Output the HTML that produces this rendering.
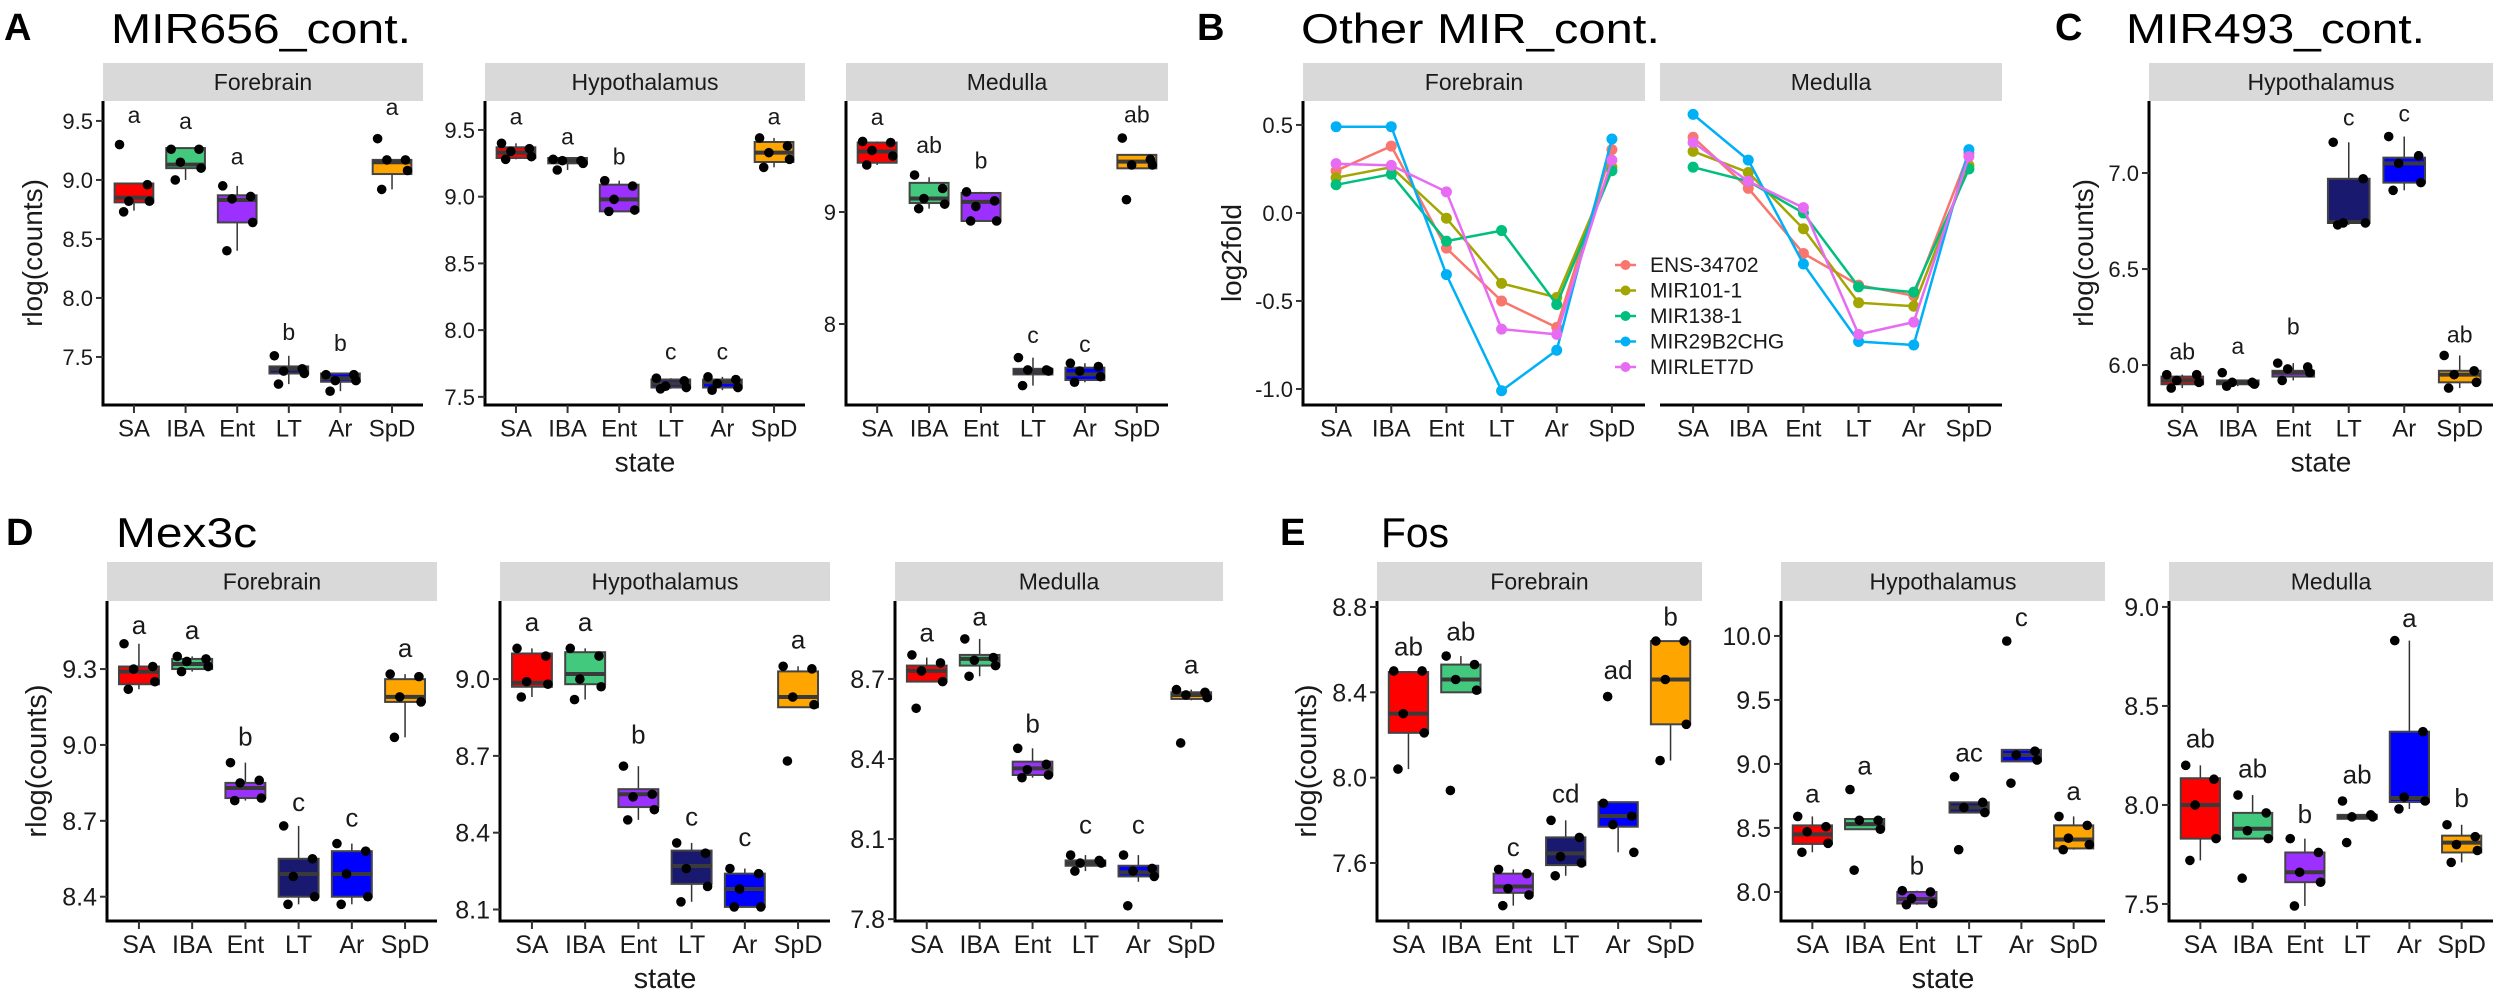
<!DOCTYPE html>
<html><head><meta charset="utf-8"><title>Figure</title>
<style>
html,body{margin:0;padding:0;background:#fff;}
svg{display:block;}
text{font-family:"Liberation Sans Narrow","Liberation Sans",sans-serif;fill:#1a1a1a;}
.ttl{font-family:"Liberation Sans",sans-serif;fill:#000;}
.let{font-family:"Liberation Sans",sans-serif;font-weight:bold;fill:#000;}
</style></head>
<body>
<svg id="fig" xmlns="http://www.w3.org/2000/svg" width="2500" height="993" viewBox="0 0 2500 993">
<rect x="0" y="0" width="2500" height="993" fill="#fff"/>
<text class="let" x="4" y="40" font-size="38">A</text>
<text class="ttl" x="111" y="43" font-size="42" textLength="300" lengthAdjust="spacingAndGlyphs">MIR656_cont.</text>
<text class="let" x="1197" y="40" font-size="38">B</text>
<text class="ttl" x="1301" y="43" font-size="42" textLength="359" lengthAdjust="spacingAndGlyphs">Other MIR_cont.</text>
<text class="let" x="2055" y="40" font-size="38">C</text>
<text class="ttl" x="2126" y="43" font-size="42" textLength="299" lengthAdjust="spacingAndGlyphs">MIR493_cont.</text>
<text class="let" x="6" y="545" font-size="38">D</text>
<text class="ttl" x="116" y="547" font-size="42" textLength="141" lengthAdjust="spacingAndGlyphs">Mex3c</text>
<text class="let" x="1280" y="545" font-size="38">E</text>
<text class="ttl" x="1381" y="547" font-size="42" textLength="68" lengthAdjust="spacingAndGlyphs">Fos</text>
</svg>
<script>
const CATS = ['SA','IBA','Ent','LT','Ar','SpD'];
const FILLS = ['#FF0000','#43C97E','#9B30FF','#191970','#0000FF','#FFA500'];
const JIT = [-0.28,0.26,-0.1,0.3,-0.2];

// ---------- Panel A ----------
const A_F_ticks = [7.5,8.0,8.5,9.0,9.5];
const A_F_tickLab = ['7.5','8.0','8.5','9.0','9.5'];
const A_F_box = [[8.74,8.81,8.85,8.97,8.97],[9.0,9.10,9.13,9.27,9.27],[8.40,8.64,8.83,8.87,8.95],[7.27,7.36,7.40,7.42,7.51],[7.21,7.29,7.32,7.36,7.36],[8.92,9.05,9.15,9.17,9.17]];
const A_F_pts = [[9.30,8.96,8.82,8.82,8.73],[9.26,9.26,9.15,9.10,9.0],[8.95,8.86,8.84,8.64,8.40],[7.51,7.40,7.38,7.36,7.27],[7.35,7.35,7.30,7.30,7.21],[9.35,9.17,9.17,9.08,8.92]];
const A_F_lab = ['a','a','a','b','b','a'];
const A_F_labY = [9.55,9.50,9.20,7.71,7.62,9.62];

const A_H_ticks = [7.5,8.0,8.5,9.0,9.5];
const A_H_tickLab = ['7.5','8.0','8.5','9.0','9.5'];
const A_H_box = [[9.28,9.29,9.33,9.37,9.40],[9.20,9.25,9.27,9.29,9.29],[8.89,8.89,8.98,9.09,9.12],[7.56,7.57,7.60,7.63,7.64],[7.55,7.57,7.61,7.63,7.65],[9.22,9.26,9.33,9.41,9.44]];
const A_H_pts = [[9.40,9.36,9.34,9.30,9.28],[9.28,9.27,9.27,9.25,9.20],[9.12,9.08,8.98,8.90,8.89],[7.64,7.62,7.58,7.57,7.56],[7.65,7.63,7.60,7.57,7.55],[9.44,9.38,9.33,9.28,9.22]];
const A_H_lab = ['a','a','b','c','c','a'];
const A_H_labY = [9.60,9.45,9.30,7.84,7.84,9.60];

const A_M_ticks = [8,9];
const A_M_tickLab = ['8','9'];
const A_M_box = [[9.42,9.44,9.54,9.62,9.63],[9.03,9.08,9.12,9.26,9.31],[8.92,8.92,9.09,9.17,9.18],[7.45,7.55,7.58,7.60,7.70],[7.48,7.50,7.55,7.61,7.65],[9.39,9.39,9.45,9.51,9.51]];
const A_M_pts = [[9.63,9.62,9.55,9.50,9.42],[9.33,9.21,9.12,9.07,9.03],[9.18,9.10,9.05,8.92,8.92],[7.70,7.59,7.59,7.58,7.45],[7.65,7.62,7.58,7.53,7.48],[9.66,9.47,9.42,9.42,9.11]];
const A_M_lab = ['a','ab','b','c','c','ab'];
const A_M_labY = [9.85,9.60,9.46,7.90,7.82,9.87];

// ---------- Panel B ----------
const B_series = ['ENS-34702','MIR101-1','MIR138-1','MIR29B2CHG','MIRLET7D'];
const B_ticks = [-1.0,-0.5,0.0,0.5];
const B_tickLab = ['-1.0','-0.5','0.0','0.5'];
const B_fore = [[0.24,0.38,-0.20,-0.50,-0.65,0.36],[0.20,0.26,-0.03,-0.40,-0.48,0.26],[0.16,0.22,-0.16,-0.10,-0.52,0.24],[0.49,0.49,-0.35,-1.01,-0.78,0.42],[0.28,0.27,0.12,-0.66,-0.69,0.30]];
const B_med = [[0.43,0.14,-0.23,-0.41,-0.47,0.34],[0.35,0.23,-0.09,-0.51,-0.53,0.27],[0.26,0.18,0.0,-0.42,-0.45,0.25],[0.56,0.30,-0.29,-0.73,-0.75,0.36],[0.40,0.18,0.03,-0.69,-0.62,0.32]];
const B_colors = ['#F8766D','#A3A500','#00BF7D','#00B0F6','#E76BF3'];

// ---------- Panel C ----------
const C_ticks = [6.0,6.5,7.0];
const C_tickLab = ['6.0','6.5','7.0'];
const C_box = [[5.88,5.90,5.92,5.94,5.95],[5.89,5.90,5.91,5.92,5.92],[5.92,5.94,5.96,5.97,6.01],[6.73,6.74,6.745,6.97,7.16],[6.91,6.95,7.05,7.08,7.19],[5.88,5.91,5.95,5.97,6.05]];
const C_pts = [[5.95,5.95,5.92,5.91,5.88],[5.96,5.91,5.91,5.90,5.89],[6.01,5.99,5.98,5.96,5.92],[7.16,6.97,6.74,6.74,6.73],[7.19,7.09,7.05,6.95,6.91],[6.05,5.97,5.95,5.91,5.88]];
const C_lab = ['ab','a','b','c','c','ab'];
const C_labY = [6.07,6.10,6.20,7.29,7.31,6.16];

// ---------- Panel D ----------
const D_F_ticks = [8.4,8.7,9.0,9.3];
const D_F_tickLab = ['8.4','8.7','9.0','9.3'];
const D_F_box = [[9.22,9.24,9.29,9.31,9.40],[9.29,9.30,9.32,9.34,9.35],[8.78,8.79,8.83,8.85,8.93],[8.37,8.40,8.49,8.55,8.68],[8.37,8.40,8.49,8.58,8.61],[9.03,9.17,9.19,9.26,9.28]];
const D_F_pts = [[9.40,9.31,9.30,9.25,9.22],[9.35,9.34,9.33,9.31,9.29],[8.93,8.86,8.85,8.79,8.78],[8.68,8.55,8.48,8.40,8.37],[8.61,8.58,8.49,8.40,8.37],[9.28,9.27,9.19,9.17,9.03]];
const D_F_lab = ['a','a','b','c','c','a'];
const D_F_labY = [9.47,9.45,9.03,8.77,8.71,9.38];

const D_H_ticks = [8.1,8.4,8.7,9.0];
const D_H_tickLab = ['8.1','8.4','8.7','9.0'];
const D_H_box = [[8.93,8.97,8.985,9.10,9.12],[8.92,8.98,9.02,9.105,9.12],[8.45,8.50,8.55,8.57,8.66],[8.13,8.20,8.27,8.33,8.36],[8.11,8.11,8.18,8.24,8.26],[8.89,8.89,8.93,9.03,9.05]];
const D_H_pts = [[9.12,9.09,8.99,8.98,8.93],[9.12,9.09,9.00,8.97,8.92],[8.66,8.55,8.54,8.49,8.45],[8.36,8.32,8.26,8.19,8.13],[8.26,8.24,8.18,8.11,8.11],[9.05,9.04,8.93,8.90,8.68]];
const D_H_lab = ['a','a','b','c','c','a'];
const D_H_labY = [9.22,9.22,8.78,8.46,8.38,9.15];

const D_M_ticks = [7.8,8.1,8.4,8.7];
const D_M_tickLab = ['7.8','8.1','8.4','8.7'];
const D_M_box = [[8.69,8.69,8.73,8.75,8.78],[8.71,8.75,8.775,8.79,8.85],[8.33,8.34,8.365,8.39,8.44],[7.98,8.00,8.01,8.02,8.04],[7.94,7.96,7.975,8.00,8.04],[8.62,8.625,8.64,8.65,8.66]];
const D_M_pts = [[8.79,8.76,8.73,8.69,8.59],[8.85,8.78,8.77,8.75,8.71],[8.44,8.38,8.36,8.34,8.33],[8.04,8.02,8.01,8.01,7.98],[8.04,7.99,7.98,7.96,7.85],[8.66,8.65,8.64,8.63,8.46]];
const D_M_lab = ['a','a','b','c','c','a'];
const D_M_labY = [8.87,8.93,8.53,8.15,8.15,8.75];

// ---------- Panel E ----------
const E_F_ticks = [7.6,8.0,8.4,8.8];
const E_F_tickLab = ['7.6','8.0','8.4','8.8'];
const E_F_box = [[8.04,8.21,8.30,8.495,8.50],[8.40,8.40,8.46,8.53,8.57],[7.40,7.46,7.49,7.55,7.57],[7.54,7.59,7.645,7.72,7.80],[7.65,7.77,7.82,7.885,7.88],[8.08,8.25,8.46,8.64,8.64]];
const E_F_pts = [[8.50,8.50,8.30,8.21,8.04],[8.57,8.53,8.46,8.41,7.94],[7.57,7.55,7.48,7.45,7.40],[7.80,7.72,7.63,7.60,7.54],[7.88,7.82,7.78,7.65,8.38],[8.64,8.64,8.46,8.25,8.08]];
const E_F_lab = ['ab','ab','c','cd','ad','b'];
const E_F_labY = [8.61,8.68,7.67,7.92,8.50,8.75];

const E_H_ticks = [8.0,8.5,9.0,9.5,10.0];
const E_H_tickLab = ['8.0','8.5','9.0','9.5','10.0'];
const E_H_box = [[8.31,8.375,8.45,8.52,8.59],[8.49,8.49,8.53,8.57,8.57],[7.90,7.91,7.945,8.00,8.01],[8.62,8.62,8.66,8.70,8.70],[9.02,9.02,9.07,9.11,9.11],[8.33,8.34,8.41,8.52,8.59]];
const E_H_pts = [[8.59,8.51,8.47,8.38,8.31],[8.80,8.56,8.56,8.49,8.17],[8.01,8.00,7.95,7.91,7.90],[8.90,8.70,8.66,8.62,8.33],[9.96,9.10,9.07,9.03,8.85],[8.59,8.52,8.42,8.37,8.33]];
const E_H_lab = ['a','a','b','ac','c','a'];
const E_H_labY = [8.76,8.98,8.20,9.08,10.14,8.78];

const E_M_ticks = [7.5,8.0,8.5,9.0];
const E_M_tickLab = ['7.5','8.0','8.5','9.0'];
const E_M_box = [[7.72,7.83,8.00,8.135,8.20],[7.83,7.83,7.88,7.96,8.05],[7.49,7.61,7.66,7.76,7.83],[7.94,7.93,7.94,7.95,7.95],[7.98,8.015,8.035,8.37,8.83],[7.71,7.76,7.81,7.845,7.90]];
const E_M_pts = [[8.20,8.13,8.00,7.83,7.72],[8.05,7.96,7.87,7.83,7.63],[7.83,7.76,7.66,7.61,7.49],[8.02,7.95,7.94,7.94,7.81],[8.83,8.37,8.04,8.02,7.98],[7.90,7.84,7.80,7.77,7.71]];
const E_M_lab = ['ab','ab','b','ab','a','b'];
const E_M_labY = [8.33,8.18,7.95,8.15,8.94,8.03];

// ---------- layout ----------
const R1 = {y0:101, y1:405, s0:63, s1:101, tf:22, xf:24, af:27};
const R2 = {y0:601, y1:921, s0:562, s1:601, tf:25, xf:25, af:28};
const boxPanels = [
 {id:'a-forebrain', strip:'Forebrain', x0:103, x1:423, r:R1, dom:[7.093,9.669], ticks:A_F_ticks, tl:A_F_tickLab, box:A_F_box, pts:A_F_pts, lab:A_F_lab, labY:A_F_labY, ytitle:[32,'rlog(counts)']},
 {id:'a-hypothalamus', strip:'Hypothalamus', x0:485, x1:805, r:R1, dom:[7.439,9.717], ticks:A_H_ticks, tl:A_H_tickLab, box:A_H_box, pts:A_H_pts, lab:A_H_lab, labY:A_H_labY, xtitle:true},
 {id:'a-medulla', strip:'Medulla', x0:846, x1:1168, r:R1, dom:[7.277,9.991], ticks:A_M_ticks, tl:A_M_tickLab, box:A_M_box, pts:A_M_pts, lab:A_M_lab, labY:A_M_labY},
 {id:'c-hypothalamus', strip:'Hypothalamus', x0:2149, x1:2493, r:R1, dom:[5.792,7.375], ticks:C_ticks, tl:C_tickLab, box:C_box, pts:C_pts, lab:C_lab, labY:C_labY, ytitle:[2083,'rlog(counts)'], xtitle:true},
 {id:'d-forebrain', strip:'Forebrain', x0:107, x1:437, r:R2, dom:[8.304,9.569], ticks:D_F_ticks, tl:D_F_tickLab, box:D_F_box, pts:D_F_pts, lab:D_F_lab, labY:D_F_labY, ytitle:[36,'rlog(counts)']},
 {id:'d-hypothalamus', strip:'Hypothalamus', x0:500, x1:830, r:R2, dom:[8.055,9.305], ticks:D_H_ticks, tl:D_H_tickLab, box:D_H_box, pts:D_H_pts, lab:D_H_lab, labY:D_H_labY, xtitle:true},
 {id:'d-medulla', strip:'Medulla', x0:895, x1:1223, r:R2, dom:[7.793,8.992], ticks:D_M_ticks, tl:D_M_tickLab, box:D_M_box, pts:D_M_pts, lab:D_M_lab, labY:D_M_labY},
 {id:'e-forebrain', strip:'Forebrain', x0:1377, x1:1702, r:R2, dom:[7.328,8.828], ticks:E_F_ticks, tl:E_F_tickLab, box:E_F_box, pts:E_F_pts, lab:E_F_lab, labY:E_F_labY, ytitle:[1306,'rlog(counts)']},
 {id:'e-hypothalamus', strip:'Hypothalamus', x0:1781, x1:2105, r:R2, dom:[7.773,10.273], ticks:E_H_ticks, tl:E_H_tickLab, box:E_H_box, pts:E_H_pts, lab:E_H_lab, labY:E_H_labY, xtitle:true},
 {id:'e-medulla', strip:'Medulla', x0:2169, x1:2493, r:R2, dom:[7.414,9.030], ticks:E_M_ticks, tl:E_M_tickLab, box:E_M_box, pts:E_M_pts, lab:E_M_lab, labY:E_M_labY}
];
const linePanels = [
 {id:'b-forebrain', strip:'Forebrain', x0:1303, x1:1645, r:R1, dom:[-1.091,0.636], ticks:B_ticks, tl:B_tickLab, data:B_fore, ytitle:[1231,'log2fold']},
 {id:'b-medulla', strip:'Medulla', x0:1660, x1:2002, r:R1, dom:[-1.091,0.636], ticks:B_ticks, tl:B_tickLab, data:B_med, noY:true}
];

const NS = 'http://www.w3.org/2000/svg';
const svg = document.getElementById('fig');
function mk(tag, attrs, parent){
  const e = document.createElementNS(NS, tag);
  for (const k in attrs) e.setAttribute(k, attrs[k]);
  (parent||svg).appendChild(e);
  return e;
}
function xs(p,i){ const st=(p.x1-p.x0)/6.2; return p.x0+st*(0.6+i); }
function ys(p,v){ return p.r.y1-(v-p.dom[0])/(p.dom[1]-p.dom[0])*(p.r.y1-p.r.y0); }

function frame(p){
  const g = mk('g',{});
  
  
  const s = mk('rect',{x:p.x0,y:p.r.s0,width:p.x1-p.x0,height:p.r.s1-p.r.s0,fill:'#D9D9D9'},g);
  
  
  const st = mk('text',{x:(p.x0+p.x1)/2,y:(p.r.s0+p.r.s1)/2+8,'font-size':23,'text-anchor':'middle'},g);
  st.textContent = p.strip;
  
  
  // axes
  const xa = mk('line',{x1:p.x0,y1:p.r.y1,x2:p.x1,y2:p.r.y1,stroke:'#000','stroke-width':3},g);
  
  
  if(!p.noY){
    const ya = mk('line',{x1:p.x0,y1:p.r.y0,x2:p.x0,y2:p.r.y1+1.5,stroke:'#000','stroke-width':3},g);
    
    
    p.ticks.forEach((t,k)=>{
      const y = ys(p,t);
      mk('line',{x1:p.x0-7,y1:y,x2:p.x0,y2:y,stroke:'#333','stroke-width':2},g);
      const tt = mk('text',{x:p.x0-10,y:y+p.r.tf*0.36,'font-size':p.r.tf,'text-anchor':'end',fill:'#333'},g);
      tt.textContent = p.tl[k];
      
      
    });
  }
  CATS.forEach((c,i)=>{
    const x = xs(p,i);
    mk('line',{x1:x,y1:p.r.y1,x2:x,y2:p.r.y1+8,stroke:'#333','stroke-width':2},g);
    const tx = mk('text',{x:x,y:p.r.y1+23+p.r.xf*0.36,'font-size':p.r.xf,'text-anchor':'middle',fill:'#333'},g);
    tx.textContent = c;
    
    
  });
  if(p.ytitle){
    const cy = (p.r.y0+p.r.y1)/2;
    const yt = mk('text',{x:p.ytitle[0],y:cy,'font-size':p.r.af+1,'text-anchor':'middle',transform:'rotate(-90 '+p.ytitle[0]+' '+cy+')',dy:'0.35em',fill:'#000'},g);
    yt.textContent = p.ytitle[1];
    
    
  }
  if(p.xtitle){
    const xt = mk('text',{x:(p.x0+p.x1)/2,y:p.r.y1+57+p.r.af*0.36,'font-size':p.r.af+1,'text-anchor':'middle',fill:'#000'},g);
    xt.textContent = 'state';
    
    
  }
  return g;
}

boxPanels.forEach(p=>{
  const g = frame(p);
  const st = (p.x1-p.x0)/6.2;
  const bw = st*0.75;
  p.box.forEach((b,i)=>{
    const x = xs(p,i);
    const bg = mk('g',{},g);
    
    
    mk('line',{x1:x,y1:ys(p,b[4]),x2:x,y2:ys(p,b[3]),stroke:'#333','stroke-width':1.5},bg);
    mk('line',{x1:x,y1:ys(p,b[1]),x2:x,y2:ys(p,b[0]),stroke:'#333','stroke-width':1.5},bg);
    const top = ys(p,b[3]), bot = ys(p,b[1]);
    mk('rect',{x:x-bw/2,y:top,width:bw,height:Math.max(bot-top,2),fill:FILLS[i],stroke:'#444','stroke-width':2},bg);
    const my = ys(p,b[2]);
    mk('line',{x1:x-bw/2,y1:my,x2:x+bw/2,y2:my,stroke:'#3a3a3a','stroke-width':4},bg);
  });
  p.pts.forEach((arr,i)=>{
    const x = xs(p,i);
    arr.forEach((v,k)=>{
      const c = mk('circle',{cx:x+JIT[k%JIT.length]*st,cy:ys(p,v),r:4.8,fill:'#000'},g);
      
      
    });
  });
  p.lab.forEach((l,i)=>{
    const t = mk('text',{x:xs(p,i),y:ys(p,p.labY[i])+8,'font-size':p.r.tf+1,'text-anchor':'middle',fill:'#111'},g);
    t.textContent = l;
    
    
  });
});

linePanels.forEach(p=>{
  const g = frame(p);
  p.data.forEach((ser,s)=>{
    const pts = ser.map((v,i)=>xs(p,i).toFixed(1)+','+ys(p,v).toFixed(1)).join(' ');
    const pl = mk('polyline',{points:pts,fill:'none',stroke:B_colors[s],'stroke-width':2.5},g);
    
    
    ser.forEach((v,i)=>{
      const c = mk('circle',{cx:xs(p,i),cy:ys(p,v),r:5.5,fill:B_colors[s]},g);
      
      
    });
  });
});

// legend for B
const lg = mk('g',{});


B_series.forEach((nm,s)=>{
  const y = 265 + s*25.5;
  const e = mk('g',{},lg);
  
  
  mk('line',{x1:1615,y1:y,x2:1636,y2:y,stroke:B_colors[s],'stroke-width':2.5},e);
  mk('circle',{cx:1625.5,cy:y,r:5,fill:B_colors[s]},e);
  const t = mk('text',{x:1650,y:y+7,'font-size':21,fill:'#222'},e);
  t.textContent = nm;
});
</script>
</body></html>
